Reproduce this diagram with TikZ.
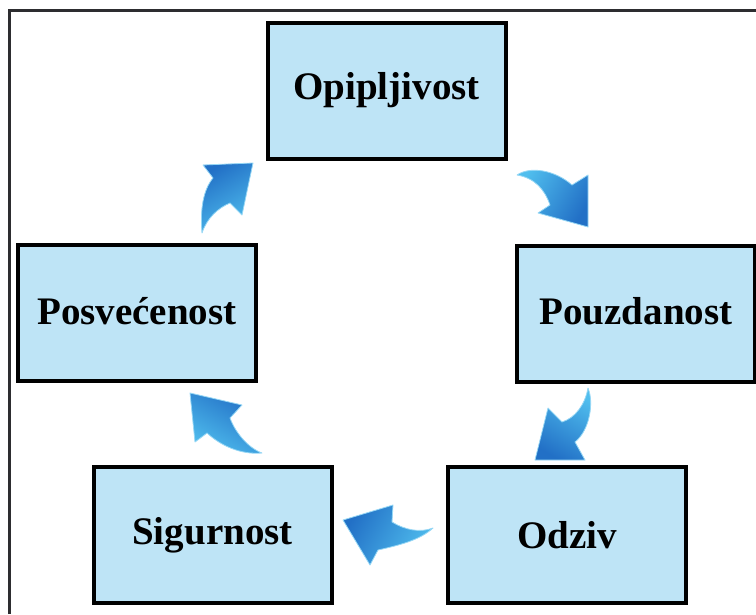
\documentclass[tikz,border=0pt]{standalone}
\usepackage{fontspec}
\setmainfont{Liberation Serif}
\definecolor{boxfill}{RGB}{190,228,246}
\definecolor{framegray}{RGB}{45,45,48}
\definecolor{arrowlight}{RGB}{80,190,238}
\definecolor{arrowdark}{RGB}{34,112,198}
\definecolor{arrowedge}{RGB}{150,215,245}
\tikzset{
  stage/.style={draw=black, line width=4pt, fill=boxfill, rectangle,
    minimum width=238pt, minimum height=136pt, inner sep=0pt,
    font=\fontsize{39}{44}\selectfont\bfseries},
  flowarrow/.style={left color=arrowlight, right color=arrowdark,
    draw=arrowedge, line width=0.8pt, line join=round}
}
\begin{document}
\begin{tikzpicture}[x=1pt,y=-1pt]
\useasboundingbox (0,0) rectangle (756,614);
% outer frame (continues past the right and bottom edges)
\draw[framegray, line width=3pt] (9.5,614) -- (9.5,10.5) -- (756,10.5);

% the five service-quality dimensions
\node[stage] (opip) at (386.5,90.5)  {Opipljivost};
\node[stage] (pouz) at (636,313.5)   {\raisebox{6pt}{Pouzdanost}};
\node[stage] (posv) at (137,313)     {\raisebox{4pt}{Posvećenost}};
\node[stage] (sigu) at (212.5,535)   {\raisebox{4pt}{Sigurnost}};
\node[stage] (odzi) at (567,535)     {Odziv};

% curved block arrows running clockwise between the boxes
\shade[flowarrow, shading angle=60]
  (517,175) .. controls (530,166) and (555,170) .. (572,185)
  -- (588,175) -- (588,227) -- (538,213) -- (550,205)
  .. controls (545,190) and (535,178) .. (517,175) -- cycle;
\shade[flowarrow, shading angle=-30]
  (588,388) .. controls (594,402) and (590,430) .. (575,442)
  -- (585,460) -- (535,460) -- (548,408) -- (562,422)
  .. controls (575,418) and (585,405) .. (588,388) -- cycle;
\shade[flowarrow, shading angle=-120]
  (433,528) .. controls (420,540) and (400,545) .. (378,550)
  -- (370,565) -- (343,520) -- (393,505) -- (392,522)
  .. controls (405,530) and (420,533) .. (433,528) -- cycle;
\shade[flowarrow, shading angle=150]
  (262,453) .. controls (248,448) and (235,432) .. (230,418)
  -- (242,405) -- (190,393) -- (195,442) -- (207,433)
  .. controls (220,445) and (240,455) .. (262,453) -- cycle;
\shade[flowarrow, shading angle=-150]
  (202,233) .. controls (200,210) and (203,190) .. (213,178)
  -- (203,165) -- (253,163) -- (242,215) -- (230,203)
  .. controls (218,208) and (207,218) .. (202,233) -- cycle;
\end{tikzpicture}
\end{document}
